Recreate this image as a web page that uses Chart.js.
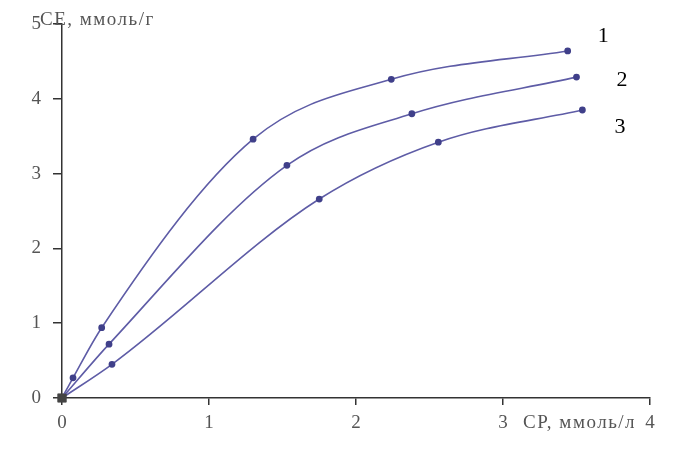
<!DOCTYPE html>
<html>
<head>
<meta charset="utf-8">
<script src="https://cdn.jsdelivr.net/npm/chart.js@4/dist/chart.umd.min.js"></script>
<style>
  html, body { margin: 0; padding: 0; background: #fff; }
  #wrap { width: 691px; height: 459px; }
</style>
</head>
<body>
<div id="wrap"><canvas id="isoChart" width="691" height="459"></canvas></div>
<script>
// Isotherm data: CP (mmol/l) vs CE (mmol/g)
const cpValues1 = [0, 0.075, 0.27, 1.30, 2.24, 3.44];
const ceValues1 = [0, 0.27, 0.94, 3.46, 4.26, 4.64];
const cpValues2 = [0, 0.32, 1.53, 2.38, 3.50];
const ceValues2 = [0, 0.72, 3.11, 3.80, 4.29];
const cpValues3 = [0, 0.34, 1.75, 2.56, 3.54];
const ceValues3 = [0, 0.45, 2.66, 3.42, 3.85];

const curveNames = ['1', '2', '3'];
const xTicks = [0, 1, 2, 3, 4];
const yTicks = [0, 1, 2, 3, 4, 5];

const lineColor = '#5e5ca6';
const dotColor = '#40408a';
const serif = '"Liberation Serif", "DejaVu Serif", serif';

function toPoints(xs, ys) {
    return xs.map((x, i) => ({ x: x, y: ys[i] }));
}

function makeSet(label, xs, ys) {
    return {
        label: label,
        data: toPoints(xs, ys),
        borderColor: lineColor,
        borderWidth: 1.6,
        backgroundColor: dotColor,
        pointBorderColor: ctx => ctx.dataIndex === 0 ? '#444' : dotColor,
        pointRadius: ctx => ctx.dataIndex === 0 ? 5 : 2.6,
        pointStyle: ctx => ctx.dataIndex === 0 ? 'rect' : 'circle',
        pointBackgroundColor: ctx => ctx.dataIndex === 0 ? '#444' : dotColor,
        cubicInterpolationMode: 'monotone',
        clip: false,
        fill: false
    };
}

// axis titles and curve numbers drawn as text
const labelsPlugin = {
    id: 'isoLabels',
    afterDraw(chart) {
        const c = chart.ctx;
        const xs = chart.scales.x, ys = chart.scales.y;
        c.save();
        c.fillStyle = '#555';
        c.textBaseline = 'middle';
        c.textAlign = 'left';
        c.font = '19px ' + serif;
        c.letterSpacing = '1.5px';
        c.fillText('СЕ, ммоль/г', xs.left - 22, ys.getPixelForValue(5) - 4);
        c.fillText('СР, ммоль/л', xs.getPixelForValue(3) + 20, xs.top + 25);
        c.letterSpacing = '0px';
        // curve numbers near the end of each line
        const sets = chart.data.datasets;
        const offsets = [[30, -15], [40, 3], [32, 17]];
        c.fillStyle = '#000';
        c.font = '22px ' + serif;
        sets.forEach((ds, i) => {
            const last = ds.data[ds.data.length - 1];
            const px = xs.getPixelForValue(last.x) + offsets[i][0];
            const py = ys.getPixelForValue(last.y) + offsets[i][1];
            c.fillText(curveNames[i], px, py);
        });
        c.restore();
    }
};

const ctx = document.getElementById('isoChart').getContext('2d');
const chart = new Chart(ctx, {
    type: 'line',
    data: {
        datasets: [
            makeSet(curveNames[0], cpValues1, ceValues1),
            makeSet(curveNames[1], cpValues2, ceValues2),
            makeSet(curveNames[2], cpValues3, ceValues3)
        ]
    },
    options: {
        responsive: false,
        animation: false,
        layout: { padding: { left: 0, right: 41, top: 24, bottom: 0 } },
        plugins: {
            legend: { display: false },
            tooltip: { enabled: false }
        },
        scales: {
            x: {
                type: 'linear',
                min: 0,
                max: 4,
                afterBuildTicks: s => { s.ticks = xTicks.map(v => ({ value: v })); },
                afterFit: s => { s.height = 61; },
                border: { display: true, color: '#333', width: 1.5 },
                grid: { display: true, drawOnChartArea: false, drawTicks: true, tickLength: 7, color: '#333', lineWidth: 1.5 },
                ticks: {
                    color: '#555',
                    padding: 7,
                    font: { family: serif, size: 19 },
                    callback: v => String(v)
                }
            },
            y: {
                type: 'linear',
                min: 0,
                max: 5,
                afterBuildTicks: s => { s.ticks = yTicks.map(v => ({ value: v })); },
                afterFit: s => { s.width = 62; },
                border: { display: true, color: '#333', width: 1.5 },
                grid: { display: true, drawOnChartArea: false, drawTicks: true, tickLength: 9, color: '#333', lineWidth: 1.5 },
                ticks: {
                    color: '#555',
                    padding: 12,
                    font: { family: serif, size: 19 },
                    callback: v => String(v)
                }
            }
        }
    },
    plugins: [labelsPlugin]
});
</script>
</body>
</html>
